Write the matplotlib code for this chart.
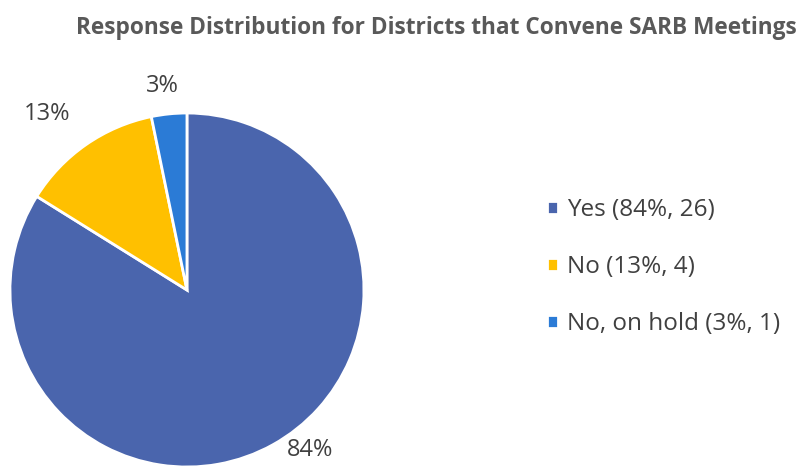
import matplotlib
matplotlib.use("Agg")
import numpy as np
import matplotlib.pyplot as plt

plt.rcParams["font.family"] = ["Open Sans", "DejaVu Sans"]

labels = ["Yes", "No", "No, on hold"]
counts = [26, 4, 1]
colors = ["#4A65AD", "#FFC000", "#2B7BD6"]
# where the % labels sit: radius (pie radius = 1) and angle shift from slice middle
label_dist = [1.14, 1.27, 1.16]
label_shift = [8.6, 3.5, 1.2]

total = sum(counts)
pcts = [round(c / total * 100) for c in counts]

fig = plt.figure(figsize=(8.09, 4.67), dpi=100)
ax = fig.add_axes([0.0123, 0.0, 0.4376, 0.758])

wedges, _ = ax.pie(counts, colors=colors, startangle=90, counterclock=False,
                   wedgeprops=dict(edgecolor="white", linewidth=2))
ax.set_xlim(-1, 1)
ax.set_ylim(-1, 1)
ax.set_aspect("equal")
ax.axis("off")

for w, p, d, s in zip(wedges, pcts, label_dist, label_shift):
    ang = np.deg2rad((w.theta1 + w.theta2) / 2 + s)
    ax.text(d * np.cos(ang), d * np.sin(ang), f"{p}%", ha="center", va="center",
            fontsize=17, color="#404040")

fig.text(0.54, 0.94, "Response Distribution for Districts that Convene SARB Meetings",
         ha="center", va="center", fontsize=16.3, fontweight="bold", color="#595959")

leg_labels = [f"{l} ({p}%, {c})" for l, p, c in zip(labels, pcts, counts)]
fig.legend(wedges, leg_labels, loc="center left", bbox_to_anchor=(0.676, 0.428),
           frameon=False, fontsize=17.5, labelcolor="#404040", handlelength=0.45,
           handleheight=0.45, handletextpad=0.37, labelspacing=1.35,
           borderaxespad=0, borderpad=0)

fig.savefig("out.png", dpi=100)
